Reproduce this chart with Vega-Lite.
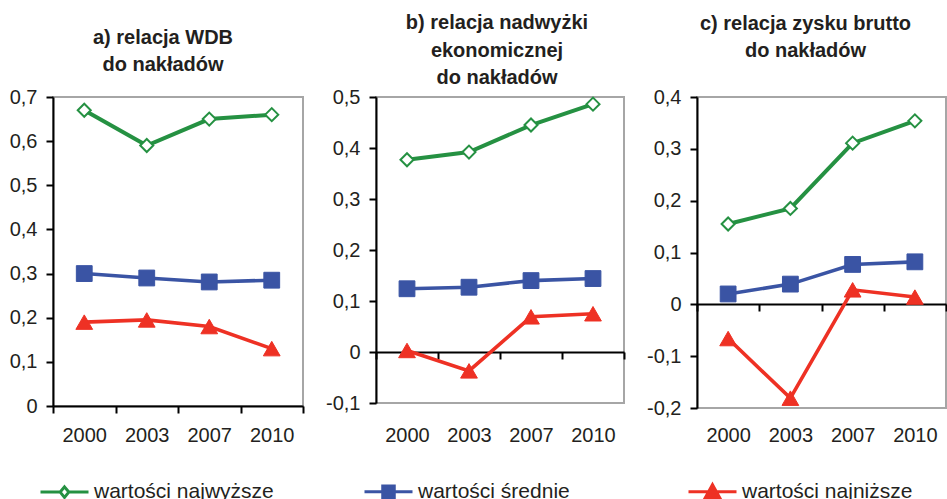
{
  "$schema": "https://vega.github.io/schema/vega-lite/v6.json",
  "padding": {"left": 8, "top": 12, "right": 0, "bottom": 0},
  "background": "white",
  "spacing": 73,
  "bounds": "flush",
  "datasets": {
    "d": [
      {"panel": "a", "rok": "2000", "seria": "wartości najwyższe", "v": 0.67},
      {"panel": "a", "rok": "2003", "seria": "wartości najwyższe", "v": 0.59},
      {"panel": "a", "rok": "2007", "seria": "wartości najwyższe", "v": 0.65},
      {"panel": "a", "rok": "2010", "seria": "wartości najwyższe", "v": 0.66},
      {"panel": "a", "rok": "2000", "seria": "wartości średnie", "v": 0.30},
      {"panel": "a", "rok": "2003", "seria": "wartości średnie", "v": 0.29},
      {"panel": "a", "rok": "2007", "seria": "wartości średnie", "v": 0.281},
      {"panel": "a", "rok": "2010", "seria": "wartości średnie", "v": 0.285},
      {"panel": "a", "rok": "2000", "seria": "wartości najniższe", "v": 0.19},
      {"panel": "a", "rok": "2003", "seria": "wartości najniższe", "v": 0.195},
      {"panel": "a", "rok": "2007", "seria": "wartości najniższe", "v": 0.18},
      {"panel": "a", "rok": "2010", "seria": "wartości najniższe", "v": 0.13},
      {"panel": "b", "rok": "2000", "seria": "wartości najwyższe", "v": 0.377},
      {"panel": "b", "rok": "2003", "seria": "wartości najwyższe", "v": 0.392},
      {"panel": "b", "rok": "2007", "seria": "wartości najwyższe", "v": 0.445},
      {"panel": "b", "rok": "2010", "seria": "wartości najwyższe", "v": 0.486},
      {"panel": "b", "rok": "2000", "seria": "wartości średnie", "v": 0.124},
      {"panel": "b", "rok": "2003", "seria": "wartości średnie", "v": 0.127},
      {"panel": "b", "rok": "2007", "seria": "wartości średnie", "v": 0.14},
      {"panel": "b", "rok": "2010", "seria": "wartości średnie", "v": 0.144},
      {"panel": "b", "rok": "2000", "seria": "wartości najniższe", "v": 0.003},
      {"panel": "b", "rok": "2003", "seria": "wartości najniższe", "v": -0.037},
      {"panel": "b", "rok": "2007", "seria": "wartości najniższe", "v": 0.069},
      {"panel": "b", "rok": "2010", "seria": "wartości najniższe", "v": 0.075},
      {"panel": "c", "rok": "2000", "seria": "wartości najwyższe", "v": 0.155},
      {"panel": "c", "rok": "2003", "seria": "wartości najwyższe", "v": 0.185},
      {"panel": "c", "rok": "2007", "seria": "wartości najwyższe", "v": 0.311},
      {"panel": "c", "rok": "2010", "seria": "wartości najwyższe", "v": 0.354},
      {"panel": "c", "rok": "2000", "seria": "wartości średnie", "v": 0.02},
      {"panel": "c", "rok": "2003", "seria": "wartości średnie", "v": 0.039},
      {"panel": "c", "rok": "2007", "seria": "wartości średnie", "v": 0.077},
      {"panel": "c", "rok": "2010", "seria": "wartości średnie", "v": 0.082},
      {"panel": "c", "rok": "2000", "seria": "wartości najniższe", "v": -0.066},
      {"panel": "c", "rok": "2003", "seria": "wartości najniższe", "v": -0.181},
      {"panel": "c", "rok": "2007", "seria": "wartości najniższe", "v": 0.028},
      {"panel": "c", "rok": "2010", "seria": "wartości najniższe", "v": 0.014}
    ]
  },
  "hconcat": [
    {
      "width": 250, "height": 309,
      "title": {"text": ["a) relacja WDB", "do nakładów"], "dx": -15, "offset": 12},
      "data": {"name": "d"},
      "transform": [{"filter": {"field": "panel", "equal": "a"}}],
      "encoding": {
        "x": {"field": "rok", "type": "ordinal", "bandPosition": 0.5,
              "scale": {"type": "band", "paddingInner": 0, "paddingOuter": 0},
              "axis": {"offset": 0, "labelPadding": 12}},
        "y": {"field": "v", "type": "quantitative",
              "scale": {"domain": [0, 0.7], "nice": false, "zero": false},
              "axis": {"values": [0, 0.1, 0.2, 0.3, 0.4, 0.5, 0.6, 0.7]}}
      },
      "layer": [
        {"transform": [{"filter": {"field": "seria", "equal": "wartości średnie"}}],
         "mark": {"type": "line", "strokeWidth": 3.6, "color": "#3a54a4",
                  "point": {"shape": "square", "filled": true, "fill": "#3a54a4", "stroke": "#3a54a4", "strokeWidth": 1, "size": 250, "opacity": 1}}},
        {"transform": [{"filter": {"field": "seria", "equal": "wartości najniższe"}}],
         "mark": {"type": "line", "strokeWidth": 3.6, "color": "#ee3124",
                  "point": {"shape": "triangle-up", "filled": true, "fill": "#ee3124", "stroke": "#ee3124", "strokeWidth": 1, "size": 280, "opacity": 1}}},
        {"transform": [{"filter": {"field": "seria", "equal": "wartości najwyższe"}}],
         "mark": {"type": "line", "strokeWidth": 4, "color": "#259142",
                  "point": {"shape": "diamond", "filled": true, "fill": "white", "stroke": "#259142", "strokeWidth": 2, "size": 170, "opacity": 1}}},
        {"mark": {"type": "point", "opacity": 0, "filled": true},
         "encoding": {
           "shape": {"field": "seria", "type": "nominal",
             "scale": {"domain": ["wartości najwyższe", "wartości średnie", "wartości najniższe"],
                       "range": ["M-1,0H-0.18M0.18,0H1M0,-0.22L0.18,0L0,0.22L-0.18,0Z", "M-1,0H1M-0.24,-0.24H0.24V0.24H-0.24Z", "M-1,0H1M0,-0.3L0.3,0.24H-0.3Z"]},
             "legend": {"title": null, "orient": "none", "legendX": -14, "legendY": 369, "direction": "horizontal", "gridAlign": "all",
               "symbolSize": 2304, "symbolStrokeWidth": 3, "symbolOpacity": 1, "labelFontSize": 21, "labelFont": "Liberation Sans",
               "labelColor": "#231f20", "labelOffset": 4, "columnPadding": 84, "labelLimit": 400, "padding": 0}},
           "fill": {"field": "seria", "type": "nominal",
             "scale": {"domain": ["wartości najwyższe", "wartości średnie", "wartości najniższe"], "range": ["white", "#3a54a4", "#ee3124"]},
             "legend": {"title": null, "orient": "none", "legendX": -14, "legendY": 369, "direction": "horizontal", "gridAlign": "all",
               "symbolSize": 2304, "symbolStrokeWidth": 3, "symbolOpacity": 1, "labelFontSize": 21, "labelFont": "Liberation Sans",
               "labelColor": "#231f20", "labelOffset": 4, "columnPadding": 84, "labelLimit": 400, "padding": 0}},
           "stroke": {"field": "seria", "type": "nominal",
             "scale": {"domain": ["wartości najwyższe", "wartości średnie", "wartości najniższe"], "range": ["#259142", "#3a54a4", "#ee3124"]},
             "legend": {"title": null, "orient": "none", "legendX": -14, "legendY": 369, "direction": "horizontal", "gridAlign": "all",
               "symbolSize": 2304, "symbolStrokeWidth": 3, "symbolOpacity": 1, "labelFontSize": 21, "labelFont": "Liberation Sans",
               "labelColor": "#231f20", "labelOffset": 4, "columnPadding": 84, "labelLimit": 400, "padding": 0}}
         }}
      ]
    },
    {
      "width": 248, "height": 306,
      "title": {"text": ["b) relacja nadwyżki", "ekonomicznej", "do nakładów"], "dx": -3, "offset": -1},
      "data": {"name": "d"},
      "transform": [{"filter": {"field": "panel", "equal": "b"}}],
      "encoding": {
        "x": {"field": "rok", "type": "ordinal", "bandPosition": 0.5,
              "scale": {"type": "band", "paddingInner": 0, "paddingOuter": 0},
              "axis": {"offset": -51, "labelPadding": 66}},
        "y": {"field": "v", "type": "quantitative",
              "scale": {"domain": [-0.1, 0.5], "nice": false, "zero": false},
              "axis": {"values": [-0.1, 0, 0.1, 0.2, 0.3, 0.4, 0.5]}}
      },
      "layer": [
        {"transform": [{"filter": {"field": "seria", "equal": "wartości średnie"}}],
         "mark": {"type": "line", "strokeWidth": 3.6, "color": "#3a54a4",
                  "point": {"shape": "square", "filled": true, "fill": "#3a54a4", "stroke": "#3a54a4", "strokeWidth": 1, "size": 250, "opacity": 1}}},
        {"transform": [{"filter": {"field": "seria", "equal": "wartości najniższe"}}],
         "mark": {"type": "line", "strokeWidth": 3.6, "color": "#ee3124",
                  "point": {"shape": "triangle-up", "filled": true, "fill": "#ee3124", "stroke": "#ee3124", "strokeWidth": 1, "size": 280, "opacity": 1}}},
        {"transform": [{"filter": {"field": "seria", "equal": "wartości najwyższe"}}],
         "mark": {"type": "line", "strokeWidth": 4, "color": "#259142",
                  "point": {"shape": "diamond", "filled": true, "fill": "white", "stroke": "#259142", "strokeWidth": 2, "size": 170, "opacity": 1}}}
      ]
    },
    {
      "width": 249, "height": 311,
      "title": {"text": ["c) relacja zysku brutto", "do nakładów"], "dx": -16, "offset": 26},
      "data": {"name": "d"},
      "transform": [{"filter": {"field": "panel", "equal": "c"}}],
      "encoding": {
        "x": {"field": "rok", "type": "ordinal", "bandPosition": 0.5,
              "scale": {"type": "band", "paddingInner": 0, "paddingOuter": 0},
              "axis": {"offset": -104, "labelPadding": 114}},
        "y": {"field": "v", "type": "quantitative",
              "scale": {"domain": [-0.2, 0.4], "nice": false, "zero": false},
              "axis": {"values": [-0.2, -0.1, 0, 0.1, 0.2, 0.3, 0.4]}}
      },
      "layer": [
        {"transform": [{"filter": {"field": "seria", "equal": "wartości średnie"}}],
         "mark": {"type": "line", "strokeWidth": 3.6, "color": "#3a54a4",
                  "point": {"shape": "square", "filled": true, "fill": "#3a54a4", "stroke": "#3a54a4", "strokeWidth": 1, "size": 250, "opacity": 1}}},
        {"transform": [{"filter": {"field": "seria", "equal": "wartości najniższe"}}],
         "mark": {"type": "line", "strokeWidth": 3.6, "color": "#ee3124",
                  "point": {"shape": "triangle-up", "filled": true, "fill": "#ee3124", "stroke": "#ee3124", "strokeWidth": 1, "size": 280, "opacity": 1}}},
        {"transform": [{"filter": {"field": "seria", "equal": "wartości najwyższe"}}],
         "mark": {"type": "line", "strokeWidth": 4, "color": "#259142",
                  "point": {"shape": "diamond", "filled": true, "fill": "white", "stroke": "#259142", "strokeWidth": 2, "size": 170, "opacity": 1}}}
      ]
    }
  ],
  "config": {
    "view": {"stroke": "#a6a6a6", "strokeWidth": 2},
    "title": {"font": "Liberation Sans", "fontSize": 20, "fontWeight": "bold", "color": "#231f20", "lineHeight": 27.5, "frame": "group", "anchor": "middle"},
    "axis": {"title": null, "grid": false, "domainColor": "#000000", "domainWidth": 2, "tickColor": "#000000", "tickWidth": 2, "tickSize": 7,
             "labelFont": "Liberation Sans", "labelFontSize": 20, "labelColor": "#231f20"},
    "axisX": {"tickBand": "extent", "labelAngle": 0},
    "axisY": {"labelPadding": 9, "labelExpr": "replace(replace(format(datum.value, '.1~f'), '.', ','), '\u2212', '-')"}
  }
}
